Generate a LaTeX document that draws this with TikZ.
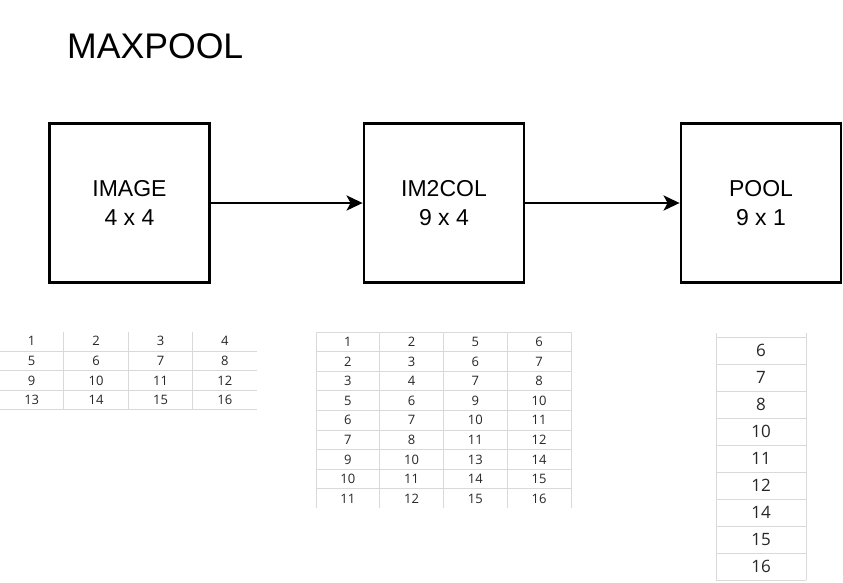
\documentclass[tikz,border=0pt]{standalone}
\usepackage{fontspec}
\setmainfont{Liberation Sans}
\newfontfamily\cellfont{Open Sans}
\usepackage{tikz}
\usetikzlibrary{arrows.meta}
\definecolor{gridline}{HTML}{D9D9D9}
\definecolor{celltext}{HTML}{262626}

\begin{document}
\begin{tikzpicture}[
        x=1pt, y=-1pt,
        box/.style={rectangle, draw, line width=2.8pt, minimum width=160pt, minimum height=159pt, align=center, font=\fontsize{23}{29}\selectfont},
        cell/.style={inner sep=0pt, text height=9.3pt, text depth=0pt, text=celltext, font=\cellfont\fontsize{13}{15}\selectfont},
        bigcell/.style={cell, text height=12.1pt, font=\cellfont\fontsize{17}{20}\selectfont},
        gridrule/.style={draw=gridline, line width=1pt},
        flow/.style={-{Stealth[length=16pt, width=15pt, inset=4pt]}, line width=2.8pt}
    ]
        \useasboundingbox (0,0) rectangle (843,582);

        % Nodes
        \node (title) [anchor=base west, inner sep=0pt, font=\fontsize{35.6}{40}\selectfont] at (67,58) {MAXPOOL};
        \node (img) [box] at (129.5,203) {IMAGE\\4 x 4};
        \node (col) [box] at (444,203) {IM2COL\\9 x 4};
        \node (pool) [box] at (761,203) {POOL\\9 x 1};

        % Arrows
        \draw [flow] (img) -- (col);
        \draw [flow] (col) -- (pool);

        % Image table
        \foreach \r in {1,...,4} {
            \draw [gridrule] (0,331.5+19.6*\r) -- (257,331.5+19.6*\r);
            \foreach \c in {1,...,4} {
                \pgfmathsetmacro\v{int(4*(\r-1)+\c)}
                \node (a-\r-\c) [cell] at (-0.5+64.4*\c-32.2, 331.5+19.6*\r-9.8) {\v};
            }
        }
        \foreach \c in {1,2,3}
            \draw [gridrule] (-0.5+64.4*\c,331.5) -- (-0.5+64.4*\c,409.9);

        % Im2col table
        \foreach \row [count=\r] in {{1,2,5,6},{2,3,6,7},{3,4,7,8},{5,6,9,10},{6,7,10,11},{7,8,11,12},{9,10,13,14},{10,11,14,15},{11,12,15,16}} {
            \foreach \v [count=\k] in \row
                \node (b-\r-\k) [cell] at (316+63.75*\k-31.9, 332+19.6*\r-9.8) {\v};
        }
        \foreach \r in {0,...,8}
            \draw [gridrule] (316,332+19.6*\r) -- (571,332+19.6*\r);
        \foreach \k in {0,...,4}
            \draw [gridrule] (316+63.75*\k,332) -- (316+63.75*\k,508);

        % Pool table
        \foreach \v [count=\r] in {6,7,8,10,11,12,14,15,16}
            \node (c-\r) [bigcell] at (761, 337+27*\r-13.5) {\v};
        \foreach \r in {0,...,9}
            \draw [gridrule] (716,337+27*\r) -- (806,337+27*\r);
        \draw [gridrule] (716,333) -- (716,580);
        \draw [gridrule] (806,333) -- (806,580);
    \end{tikzpicture}
\end{document}
